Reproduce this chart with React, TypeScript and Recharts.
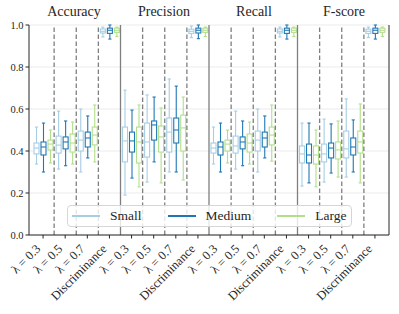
import React from 'react';
import { ComposedChart, Bar, XAxis, YAxis, CartesianGrid, ReferenceLine, Legend } from 'recharts';

const METRICS = ['Accuracy', 'Precision', 'Recall', 'F-score'];
const CATEGORIES = ['λ = 0.3', 'λ = 0.5', 'λ = 0.7', 'Discriminance'];
const SIZES = ['Small', 'Medium', 'Large'];
const FIELDS = ['small', 'medium', 'large'];
const COLORS = ['#a6cee3', '#1f78b4', '#b2df8a'];
const Y_TICKS = [0, 0.2, 0.4, 0.6, 0.8, 1.0];

// each entry: [min, q1, median, q3, max], one per category
const accuracySmall = [[0.338, 0.386, 0.414, 0.438, 0.514], [0.314, 0.39, 0.428, 0.471, 0.59], [0.3, 0.4, 0.452, 0.495, 0.6], [0.943, 0.962, 0.97, 0.981, 0.99]];
const accuracyMedium = [[0.3, 0.381, 0.419, 0.443, 0.533], [0.33, 0.41, 0.443, 0.467, 0.543], [0.367, 0.419, 0.462, 0.49, 0.567], [0.933, 0.96, 0.975, 0.985, 1.0]];
const accuracyLarge = [[0.343, 0.405, 0.433, 0.452, 0.5], [0.338, 0.395, 0.438, 0.481, 0.538], [0.348, 0.429, 0.476, 0.514, 0.619], [0.945, 0.965, 0.975, 0.985, 0.99]];

const precisionSmall = [[0.19, 0.348, 0.448, 0.514, 0.69], [0.252, 0.371, 0.443, 0.533, 0.667], [0.3, 0.395, 0.49, 0.557, 0.743], [0.94, 0.96, 0.97, 0.98, 0.995]];
const precisionMedium = [[0.271, 0.395, 0.448, 0.49, 0.595], [0.348, 0.452, 0.524, 0.543, 0.657], [0.3, 0.438, 0.5, 0.557, 0.709], [0.935, 0.962, 0.975, 0.985, 1.0]];
const precisionLarge = [[0.229, 0.343, 0.443, 0.514, 0.619], [0.248, 0.395, 0.467, 0.519, 0.605], [0.262, 0.4, 0.51, 0.571, 0.657], [0.945, 0.965, 0.975, 0.985, 0.99]];

const recallSmall = [[0.338, 0.39, 0.414, 0.438, 0.514], [0.314, 0.39, 0.424, 0.471, 0.59], [0.3, 0.4, 0.452, 0.495, 0.6], [0.943, 0.962, 0.97, 0.981, 0.99]];
const recallMedium = [[0.3, 0.381, 0.419, 0.443, 0.533], [0.33, 0.41, 0.443, 0.467, 0.543], [0.367, 0.419, 0.462, 0.49, 0.567], [0.933, 0.96, 0.975, 0.985, 1.0]];
const recallLarge = [[0.343, 0.4, 0.433, 0.452, 0.5], [0.338, 0.395, 0.438, 0.481, 0.538], [0.352, 0.429, 0.476, 0.514, 0.619], [0.945, 0.965, 0.975, 0.985, 0.99]];

const fscoreSmall = [[0.233, 0.343, 0.386, 0.424, 0.533], [0.252, 0.348, 0.386, 0.433, 0.552], [0.276, 0.367, 0.41, 0.495, 0.648], [0.94, 0.96, 0.97, 0.98, 0.99]];
const fscoreMedium = [[0.248, 0.343, 0.381, 0.433, 0.533], [0.295, 0.367, 0.414, 0.438, 0.529], [0.3, 0.381, 0.419, 0.462, 0.548], [0.933, 0.96, 0.975, 0.985, 1.0]];
const fscoreLarge = [[0.229, 0.338, 0.381, 0.424, 0.5], [0.276, 0.362, 0.405, 0.443, 0.543], [0.248, 0.39, 0.443, 0.495, 0.624], [0.945, 0.965, 0.975, 0.985, 0.99]];

const STATS = [
  [accuracySmall, accuracyMedium, accuracyLarge],
  [precisionSmall, precisionMedium, precisionLarge],
  [recallSmall, recallMedium, recallLarge],
  [fscoreSmall, fscoreMedium, fscoreLarge],
];

const rows = METRICS.flatMap((m, mi) =>
  CATEGORIES.map((c, ci) => ({
    key: `${mi}-${ci}`,
    label: c,
    small: STATS[mi][0][ci],
    medium: STATS[mi][1][ci],
    large: STATS[mi][2][ci],
  }))
);

const FONT = 'Liberation Serif, Times New Roman, DejaVu Serif, serif';
const INK = '#262626';

function BoxShape(props: any) {
  const { x, y, width, height, payload, field, color } = props;
  const [mn, q1, md, q3, mx] = payload[field];
  const py = (v: number) => y + (height * (mx - v)) / (mx - mn);
  const cx = x + width / 2;
  const bw = 5;
  const cw = 3.2;
  return (
    <g stroke={color} strokeWidth={1.1} fill="none">
      <line x1={cx} x2={cx} y1={py(mx)} y2={py(q3)} />
      <line x1={cx} x2={cx} y1={py(q1)} y2={py(mn)} />
      <line x1={cx - cw / 2} x2={cx + cw / 2} y1={py(mx)} y2={py(mx)} />
      <line x1={cx - cw / 2} x2={cx + cw / 2} y1={py(mn)} y2={py(mn)} />
      <rect x={cx - bw / 2} y={py(q3)} width={bw} height={py(q1) - py(q3)} fill="#fff" />
      <line x1={cx - bw / 2} x2={cx + bw / 2} y1={py(md)} y2={py(md)} />
    </g>
  );
}

function XTick({ x, y, payload }: any) {
  const row = rows.find((r) => r.key === payload.value);
  const ax = x - 2;
  const ay = y + 9;
  return (
    <text
      x={ax}
      y={ay}
      transform={`rotate(-45, ${ax}, ${ay})`}
      textAnchor="end"
      style={{ fontFamily: FONT, fontSize: 12.5 }}
      fill={INK}
    >
      {row ? row.label : ''}
    </text>
  );
}

function YTick({ x, y, payload }: any) {
  return (
    <text x={x} y={y} dy={3.5} textAnchor="end" style={{ fontFamily: FONT, fontSize: 10.5 }} fill={INK}>
      {Number(payload.value).toFixed(1)}
    </text>
  );
}

function LegendBox() {
  return (
    <div
      style={{
        boxSizing: 'border-box',
        width: 285,
        height: 22,
        border: '1px solid #d6d6d6',
        borderRadius: 4,
        background: 'rgba(255,255,255,0.8)',
        display: 'flex',
        alignItems: 'center',
        fontFamily: FONT,
        fontSize: 13.5,
        color: INK,
      }}
    >
      {SIZES.map((s, i) => (
        <div key={s} style={{ display: 'flex', alignItems: 'center', marginLeft: i === 0 ? 4 : 26 }}>
          <div style={{ width: 28, height: 1.5, background: COLORS[i], marginRight: 10 }} />
          <span>{s}</span>
        </div>
      ))}
    </div>
  );
}

export default function App() {
  const dashedKeys = rows.filter((r, i) => i % 4 !== 0).map((r) => r.key);
  const panelKeys = rows.filter((r, i) => i % 4 === 0 && i > 0).map((r) => r.key);

  return (
    <div style={{ position: 'absolute', left: 0, top: 0, width: 399, height: 314, background: '#fff' }}>
      {METRICS.map((m, i) => (
        <div
          key={m}
          style={{
            position: 'absolute',
            left: 29 + 90 * i,
            width: 90,
            top: 3,
            textAlign: 'center',
            fontFamily: FONT,
            fontSize: 14,
            color: INK,
            lineHeight: '18px',
          }}
        >
          {m}
        </div>
      ))}
      <ComposedChart
        width={399}
        height={314}
        data={rows}
        margin={{ top: 25, right: 9, bottom: 0, left: 0 }}
        barSize={7}
        barGap={0}
        barCategoryGap={0}
      >
        <CartesianGrid vertical={false} stroke="#ebebeb" />
        <XAxis
          dataKey="key"
          height={79}
          interval={0}
          padding={{ left: 3, right: 3 }}
          tick={<XTick />}
          tickSize={3.5}
          stroke={INK}
        />
        <XAxis xAxisId="top" orientation="top" dataKey="key" height={0} tick={false} tickLine={false} stroke={INK} />
        <YAxis
          width={29}
          domain={[0, 1]}
          ticks={Y_TICKS}
          tickSize={3.5}
          tick={<YTick />}
          stroke={INK}
        />
        <YAxis yAxisId="right" orientation="right" width={1} domain={[0, 1]} tick={false} tickLine={false} stroke={INK} />
        {dashedKeys.map((k) => (
          <ReferenceLine key={`d${k}`} x={k} position="start" stroke="#7f7f7f" strokeWidth={1.3} strokeDasharray="4.5 2.5" />
        ))}
        {panelKeys.map((k) => (
          <ReferenceLine key={`p${k}`} x={k} position="start" stroke="#7f7f7f" strokeWidth={1.3} />
        ))}
        {FIELDS.map((f, i) => (
          <Bar
            key={f}
            name={SIZES[i]}
            dataKey={(d: any) => [d[f][0], d[f][4]]}
            fill={COLORS[i]}
            isAnimationActive={false}
            shape={(p: any) => <BoxShape {...p} field={f} color={COLORS[i]} />}
          />
        ))}
        <Legend
          layout="horizontal"
          verticalAlign="middle"
          align="center"
          wrapperStyle={{ left: 67, top: 205, width: 285, height: 22 }}
          content={() => <LegendBox />}
        />
      </ComposedChart>
    </div>
  );
}
